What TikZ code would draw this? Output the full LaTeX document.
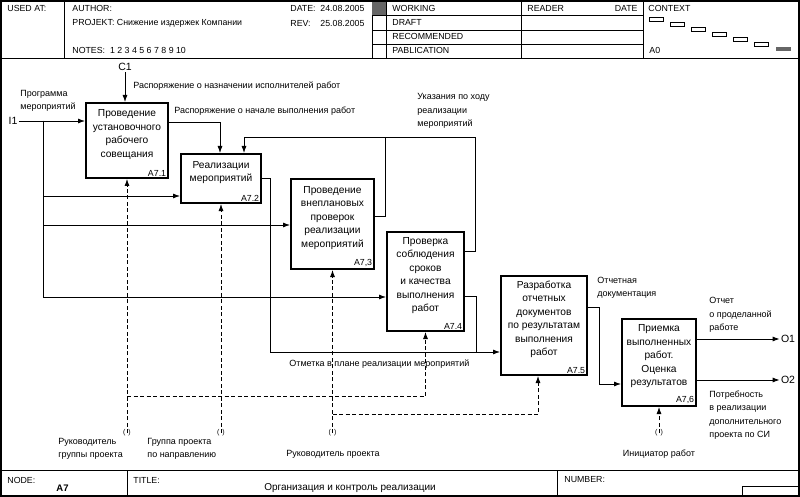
\documentclass[tikz,border=0pt]{standalone}
\usepackage{fontspec}
\setmainfont{Liberation Sans}
\usetikzlibrary{arrows.meta}

\tikzset{
  box/.style = {draw, line width = 2pt, inner sep = 0pt},
  boxtxt/.style = {align = center, inner sep = 0pt,
    font = \fontsize{10.2}{13.5}\selectfont},
  num/.style = {anchor = south east, inner sep = 2.5pt,
    font = \fontsize{8.8}{10}\selectfont},
  lbl/.style = {align = left, anchor = west, inner sep = 0pt,
    font = \fontsize{9}{13.5}\selectfont},
  hdr/.style = {anchor = west, inner sep = 0pt,
    font = \fontsize{8.8}{10}\selectfont},
  icom/.style = {inner sep = 1pt, font = \fontsize{10.5}{12}\selectfont},
  tunnel/.style = {inner sep = 0pt, font = \fontsize{7}{7}\selectfont},
  arr/.style = {-{Latex[length = 7pt, width = 5pt]}, line width = .8pt},
  mech/.style = {arr, dash pattern = on 4pt off 2.5pt}
}

\begin{document}
\begin{tikzpicture}[x = 1pt, y = -1pt, line width = .8pt]
  \useasboundingbox (0, 0) rectangle (800, 497);
  % frame and header
  \draw[line width = 1.2pt] (1, 1) rectangle (799, 496);
  \draw (1, 58) -- (799, 58);
  \draw (64, 1) -- (64, 58);
  \draw (372, 1) -- (372, 58);
  \draw (386, 1) -- (386, 58);
  \draw (521, 1) -- (521, 58);
  \draw (643, 1) -- (643, 58);
  \draw (372, 15.5) -- (643, 15.5);
  \draw (372, 30) -- (643, 30);
  \draw (372, 44) -- (643, 44);
  \fill[black!60] (372.4, 1.6) rectangle (385.6, 15.1);
  \node[hdr] (usedat) at (7, 8.5) {USED AT:};
  \node[hdr] (author) at (72, 8.5) {AUTHOR:};
  \node[hdr] (projekt) at (72, 23) {PROJEKT: Снижение издержек Компании};
  \node[hdr] (notes) at (72, 50.5) {NOTES:\ \ 1 2 3 4 5 6 7 8 9 10};
  \node[hdr] (date) at (290, 8.5) {\makebox[30pt][l]{DATE:}24.08.2005};
  \node[hdr] (rev) at (290, 23) {\makebox[30pt][l]{REV:}25.08.2005};
  \node[hdr] (working) at (392, 8.5) {WORKING};
  \node[hdr] (draft) at (392, 22) {DRAFT};
  \node[hdr] (recomm) at (392, 36.5) {RECOMMENDED};
  \node[hdr] (pablic) at (392, 50.5) {PABLICATION};
  \node[hdr] (reader) at (527, 8.5) {READER};
  \node[hdr, anchor = east] (rdate) at (638, 8.5) {DATE};
  \node[hdr] (context) at (648, 8.5) {CONTEXT};
  \node[hdr] (azero) at (649, 50.5) {A0};
  \draw (649, 17) rectangle (663, 21.5);
  \draw (670, 22) rectangle (684, 26.5);
  \draw (691, 27) rectangle (705, 31.5);
  \draw (712, 32) rectangle (726, 36.5);
  \draw (733, 37) rectangle (747, 41.5);
  \draw (754, 42) rectangle (768, 46.5);
  \fill[black!60] (776, 47) rectangle (791, 51.5);

  % footer
  \draw (1, 470) -- (799, 470);
  \draw (127, 470) -- (127, 496);
  \draw (557, 470) -- (557, 496);
  \draw (742, 486) -- (799, 486);
  \draw (742, 486) -- (742, 496);
  \node[hdr] (node) at (7, 480) {NODE:};
  \node[hdr, font = \fontsize{9.5}{10}\selectfont\bfseries] (nodeid) at (56, 488) {A7};
  \node[hdr] (title) at (133, 480) {TITLE:};
  \node[font = \fontsize{10}{11}\selectfont, inner sep = 0pt] (titletxt) at (350, 488)
  {Организация и контроль реализации};
  \node[hdr] (number) at (564, 480) {NUMBER:};

  % activity boxes
  \node[box, minimum width = 82, minimum height = 75] (a71) at (127, 140.5) {};
  \node[boxtxt] (a71t) at ([yshift = 6pt]a71.center)
  {Проведение\\установочного\\рабочего\\совещания};
  \node[num] (a71n) at (a71.south east) {A7.1};
  \node[box, minimum width = 80, minimum height = 49] (a72) at (221, 178.5) {};
  \node[boxtxt] (a72t) at ([yshift = 6pt]a72.center) {Реализации\\мероприятий};
  \node[num] (a72n) at (a72.south east) {A7.2};
  \node[box, minimum width = 83, minimum height = 90] (a73) at (332.5, 224) {};
  \node[boxtxt] (a73t) at ([yshift = 6pt]a73.center)
  {Проведение\\внеплановых\\проверок\\реализации\\мероприятий};
  \node[num] (a73n) at (a73.south east) {A7,3};
  \node[box, minimum width = 77, minimum height = 99] (a74) at (425.5, 281.5) {};
  \node[boxtxt] (a74t) at ([yshift = 6pt]a74.center)
  {Проверка\\соблюдения\\сроков\\и качества\\выполнения\\работ};
  \node[num] (a74n) at (a74.south east) {A7.4};
  \node[box, minimum width = 86, minimum height = 99] (a75) at (544, 325.5) {};
  \node[boxtxt] (a75t) at ([yshift = 6pt]a75.center)
  {Разработка\\отчетных\\документов\\по результатам\\выполнения\\работ};
  \node[num] (a75n) at (a75.south east) {A7.5};
  \node[box, minimum width = 74, minimum height = 87] (a76) at (659, 362.5) {};
  \node[boxtxt] (a76t) at ([yshift = 6pt]a76.center)
  {Приемка\\выполненных\\работ.\\Оценка\\результатов};
  \node[num] (a76n) at (a76.south east) {A7,6};

  % boundary arrows
  \node[icom] (c1) at (125, 67) {C1};
  \node[icom] (i1) at (13, 121) {I1};
  \node[icom] (o1) at (788, 339) {O1};
  \node[icom] (o2) at (788, 380) {O2};
  \coordinate (ib) at (43, 121);
  \draw[arr] (c1) -- (c1 |- a71.north);
  \draw[arr] (i1) -- (i1 -| a71.west);
  \draw[arr] (ib) |- (a72.west |- 0, 196);
  \draw[arr] (ib) |- (a73.west |- 0, 225);
  \draw[arr] (ib) |- (a74.west |- 0, 297);
  \draw[arr] (a76.east |- o1) -- (o1);
  \draw[arr] (a76.east |- o2) -- (o2);

  % internal arrows
  \draw[arr] (a71.east |- 0, 122) -| (a72.north -| 220, 0);
  \draw[arr] (a74.east |- 0, 251) -| (475, 137) -| (a72.north -| 244, 0);
  \draw (a73.east |- 0, 216) -| (385, 137);
  \draw[arr] (a72.east) -| (270, 352) -- (a75.west |- 0, 352);
  \draw (a74.east |- 0, 296) -| (476, 352);
  \draw[arr] (a75.east |- 0, 307) -| (599, 384) -- (a76.west |- 0, 384);

  % mechanisms
  \node[tunnel] (m1) at (127, 433) {(\hspace{3pt})};
  \node[tunnel] (m2) at (221, 433) {(\hspace{3pt})};
  \node[tunnel] (m3) at (332.5, 433) {(\hspace{3pt})};
  \node[tunnel] (m6) at (659, 433) {(\hspace{3pt})};
  \draw[mech] (m1.center) -- (m1.center |- a71.south);
  \draw[mech] (m1.center |- 0, 396) -| (a74.south);
  \draw[mech] (m2.center) -- (m2.center |- a72.south);
  \draw[mech] (m3.center) -- (m3.center |- a73.south);
  \draw[mech] (m3.center |- 0, 414) -| (a75.south -| 538, 0);
  \draw[mech] (m6.center) -- (m6.center |- a76.south);

  % labels
  \node[lbl] (lprog) at (20, 101) {Программа\\мероприятий};
  \node[lbl] (lnazn) at (133, 86.5) {Распоряжение о назначении исполнителей работ};
  \node[lbl] (lnach) at (174, 111) {Распоряжение о начале выполнения работ};
  \node[lbl] (lukaz) at (417, 111) {Указания по ходу\\реализации\\мероприятий};
  \node[lbl] (lotm) at (289, 364) {Отметка в плане реализации мероприятий};
  \node[lbl] (lotch) at (597, 288) {Отчетная\\документация};
  \node[lbl] (lo1) at (709, 315) {Отчет\\о проделанной\\работе};
  \node[lbl] (lo2) at (709, 415)
  {Потребность\\в реализации\\дополнительного\\проекта по СИ};
  \node[lbl] (lm1) at (58, 449) {Руководитель\\группы проекта};
  \node[lbl] (lm2) at (147, 449) {Группа проекта\\по направлению};
  \node[lbl, anchor = center] (lm3) at (333, 454) {Руководитель проекта};
  \node[lbl, anchor = center] (lm6) at (659, 454) {Инициатор работ};
\end{tikzpicture}
\end{document}
